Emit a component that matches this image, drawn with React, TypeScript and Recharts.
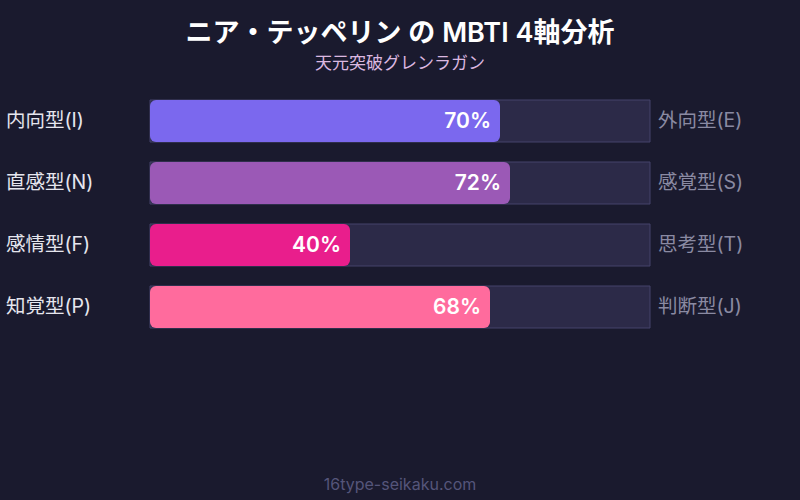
import React from 'react'
import { BarChart, Bar, XAxis, YAxis, Cell, LabelList } from 'recharts'

// 軸ごとの値
const leftLabels = ['内向型(I)', '直感型(N)', '感情型(F)', '知覚型(P)']
const rightLabels = ['外向型(E)', '感覚型(S)', '思考型(T)', '判断型(J)']
const values = [70, 72, 40, 68]
const barColors = ['#7b68ee', '#9b59b6', '#e91e8c', '#ff6b9d']

const data = leftLabels.map((l, i) => ({ left: l, right: rightLabels[i], value: values[i] }))

const FONT = "Inter, 'Noto Sans CJK JP', sans-serif"

const LeftTick = ({ y, payload }: any) => (
  <text x={6} y={y} dy={6} fill="#e6e6ee" fontSize={19.5} fontFamily={FONT} textAnchor="start">
    {payload.value}
  </text>
)

const RightTick = ({ y, payload }: any) => (
  <text x={658} y={y} dy={6} fill="#8a8aa2" fontSize={19.5} fontFamily={FONT} textAnchor="start">
    {payload.value}
  </text>
)

export default function App() {
  return (
    <div style={{ position: 'fixed', left: 0, top: 0, width: 800, height: 500, background: '#1a1a2e', fontFamily: FONT }}>
      <div style={{ position: 'absolute', top: 14, width: 800, textAlign: 'center', color: '#ffffff', fontSize: 27, fontWeight: 600, lineHeight: '38px' }}>
        ニア・テッペリン の MBTI 4軸分析
      </div>
      <div style={{ position: 'absolute', top: 51, width: 800, textAlign: 'center', color: '#dcb8e0', fontSize: 17, lineHeight: '24px' }}>
        天元突破グレンラガン
      </div>
      <BarChart
        width={800}
        height={500}
        data={data}
        layout="vertical"
        margin={{ top: 90, right: 0, bottom: 162, left: 0 }}
      >
        <XAxis type="number" domain={[0, 100]} hide />
        <YAxis yAxisId="l" type="category" dataKey="left" width={150} axisLine={false} tickLine={false} tick={<LeftTick />} />
        <YAxis yAxisId="r" type="category" dataKey="right" orientation="right" width={150} axisLine={false} tickLine={false} tick={<RightTick />} />
        <Bar
          yAxisId="l"
          dataKey="value"
          barSize={42}
          radius={6}
          background={{ fill: '#2c2a48', stroke: '#44426a', strokeWidth: 1 }}
          isAnimationActive={false}
        >
          {data.map((_, i) => (
            <Cell key={i} fill={barColors[i]} />
          ))}
          <LabelList
            dataKey="value"
            position="insideRight"
            offset={9}
            fill="#ffffff"
            fontSize={21}
            fontWeight={600}
            fontFamily={FONT}
            formatter={(v: any) => `${v}%`}
          />
        </Bar>
      </BarChart>
      <div style={{ position: 'absolute', top: 473, width: 800, textAlign: 'center', color: '#55557a', fontSize: 16, lineHeight: '22px' }}>
        16type-seikaku.com
      </div>
    </div>
  )
}
